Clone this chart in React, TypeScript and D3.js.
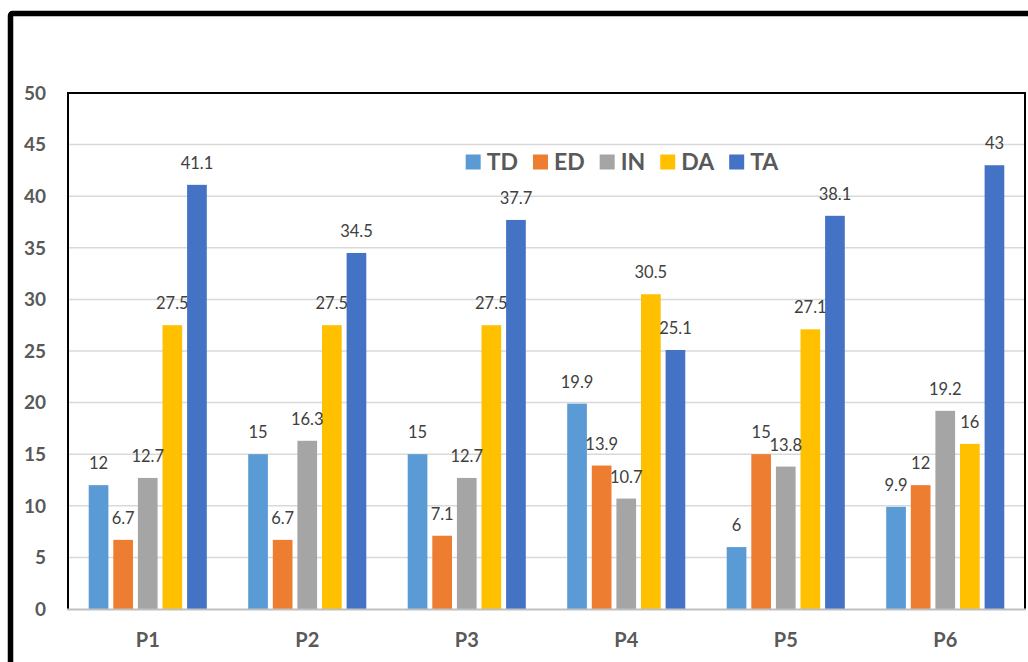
import React, { useEffect, useRef } from "react";
import * as d3 from "d3";

// Categories and series
const categories = ["P1", "P2", "P3", "P4", "P5", "P6"];
const seriesNames = ["TD", "ED", "IN", "DA", "TA"];
const TD = [12, 15, 15, 19.9, 6, 9.9];
const ED = [6.7, 6.7, 7.1, 13.9, 15, 12];
const IN = [12.7, 16.3, 12.7, 10.7, 13.8, 19.2];
const DA = [27.5, 27.5, 27.5, 30.5, 27.1, 16];
const TA = [41.1, 34.5, 37.7, 25.1, 38.1, 43];
const seriesValues = [TD, ED, IN, DA, TA];
const seriesColors = ["#5b9bd5", "#ed7d31", "#a5a5a5", "#ffc000", "#4472c4"];
const yTicks = [0, 5, 10, 15, 20, 25, 30, 35, 40, 45, 50];

const W = 1028;
const H = 662;
const FONT = "Lato, 'Open Sans', sans-serif";

export default function App() {
  const ref = useRef<SVGSVGElement | null>(null);

  useEffect(() => {
    const svg = d3.select(ref.current);
    svg.selectAll("*").remove();

    const plot = { left: 68, right: 1025, top: 93, bottom: 609 };

    const x0 = d3.scaleBand<string>().domain(categories).range([plot.left, plot.right]).padding(0);
    const groupW = 123;
    const x1 = d3
      .scaleBand<string>()
      .domain(seriesNames)
      .range([-groupW / 2, groupW / 2])
      .paddingInner(0.2)
      .paddingOuter(0.1);
    const y = d3.scaleLinear().domain([0, 50]).range([plot.bottom, plot.top]);

    svg.append("rect").attr("width", W).attr("height", H).attr("fill", "#ffffff");

    // outer frame
    svg
      .append("rect")
      .attr("x", 10.5)
      .attr("y", 13.5)
      .attr("width", 1200)
      .attr("height", 900)
      .attr("rx", 2)
      .attr("fill", "none")
      .attr("stroke", "#000")
      .attr("stroke-width", 5.5);

    // gridlines
    svg
      .append("g")
      .selectAll("line")
      .data(yTicks.filter((t) => t > 0 && t < 50))
      .join("line")
      .attr("x1", plot.left)
      .attr("x2", plot.right)
      .attr("y1", (d) => y(d))
      .attr("y2", (d) => y(d))
      .attr("stroke", "#d9d9d9")
      .attr("stroke-width", 1.5);

    // y tick labels
    svg
      .append("g")
      .selectAll("text")
      .data(yTicks)
      .join("text")
      .attr("x", 46)
      .attr("y", (d) => y(d))
      .attr("dy", "0.36em")
      .attr("text-anchor", "end")
      .attr("font-family", FONT)
      .attr("font-weight", 700)
      .attr("font-size", 19)
      .attr("fill", "#595959")
      .text((d) => String(d));

    // bars
    const groups = svg
      .append("g")
      .selectAll("g")
      .data(categories)
      .join("g")
      .attr("transform", (c) => `translate(${(x0(c) ?? 0) + x0.bandwidth() / 2},0)`);

    groups.each(function (c, ci) {
      const g = d3.select(this);
      const rows = seriesNames.map((s, si) => ({ s, v: seriesValues[si][ci], color: seriesColors[si] }));
      g.selectAll("rect")
        .data(rows)
        .join("rect")
        .attr("x", (d) => x1(d.s) ?? 0)
        .attr("width", x1.bandwidth())
        .attr("y", (d) => y(d.v))
        .attr("height", (d) => y(0) - y(d.v))
        .attr("fill", (d) => d.color);
      g.selectAll("text")
        .data(rows)
        .join("text")
        .attr("x", (d) => (x1(d.s) ?? 0) + x1.bandwidth() / 2)
        .attr("y", (d) => y(d.v) - 16)
        .attr("text-anchor", "middle")
        .attr("font-family", FONT)
        .attr("font-size", 16.5)
        .attr("fill", "#404040")
        .text((d) => String(d.v));
    });

    // plot border: left, top, right black; bottom axis gray
    svg
      .append("path")
      .attr("d", `M${plot.left},${plot.bottom} V${plot.top} H${plot.right} V${plot.bottom}`)
      .attr("fill", "none")
      .attr("stroke", "#000")
      .attr("stroke-width", 2);
    svg
      .append("line")
      .attr("x1", plot.left - 1)
      .attr("x2", plot.right + 1)
      .attr("y1", plot.bottom + 0.5)
      .attr("y2", plot.bottom + 0.5)
      .attr("stroke", "#bfbfbf")
      .attr("stroke-width", 2);

    // x labels
    svg
      .append("g")
      .selectAll("text")
      .data(categories)
      .join("text")
      .attr("x", (c) => (x0(c) ?? 0) + x0.bandwidth() / 2)
      .attr("y", 640)
      .attr("dy", "0.36em")
      .attr("text-anchor", "middle")
      .attr("font-family", FONT)
      .attr("font-weight", 700)
      .attr("font-size", 20)
      .attr("fill", "#595959")
      .text((c) => c);

    // legend
    const legend = svg.append("g");
    const items = legend
      .selectAll("g")
      .data(seriesNames.map((s, i) => ({ s, color: seriesColors[i] })))
      .join("g");
    items
      .append("rect")
      .attr("width", 15)
      .attr("height", 15)
      .attr("y", -7)
      .attr("fill", (d) => d.color);
    items
      .append("text")
      .attr("x", 21)
      .attr("dy", "0.36em")
      .attr("font-family", FONT)
      .attr("font-weight", 700)
      .attr("font-size", 23)
      .attr("fill", "#595959")
      .text((d) => d.s);
    let cursor = 0;
    items.each(function () {
      const node = this as SVGGElement;
      d3.select(node).attr("transform", `translate(${cursor},0)`);
      const tw = (d3.select(node).select("text").node() as SVGTextElement).getComputedTextLength();
      cursor += 21 + tw + 15;
    });
    const totalW = cursor - 15;
    legend.attr("transform", `translate(${622 - totalW / 2},161.5)`);
  }, []);

  return (
    <svg
      ref={ref}
      width={W}
      height={H}
      style={{ position: "absolute", left: 0, top: 0, display: "block" }}
    />
  );
}
